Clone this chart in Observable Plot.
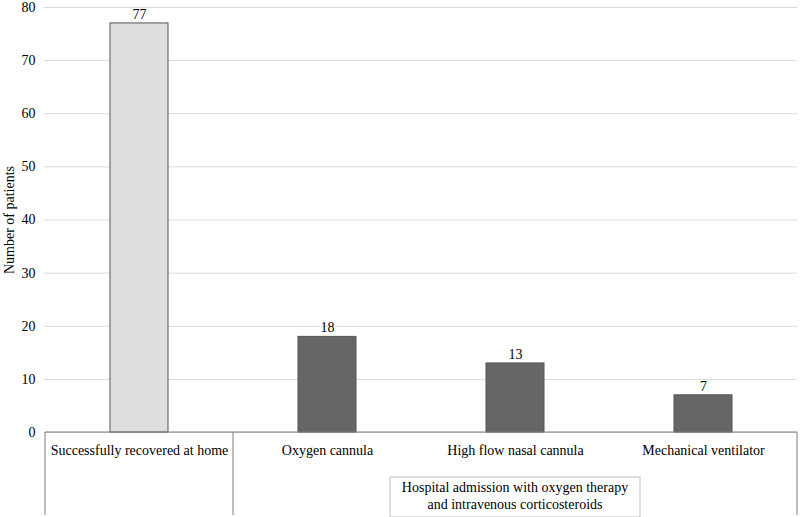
<!DOCTYPE html>
<html><head><meta charset="utf-8">
<script src="https://cdn.jsdelivr.net/npm/d3@7"></script>
<script src="https://cdn.jsdelivr.net/npm/@observablehq/plot@0.6"></script>
<style>
body{margin:0;background:#fff;}
svg{font-family:"Liberation Serif","Times New Roman",serif;}
</style></head>
<body><div id="chart"></div>
<script>
const categories = ["Successfully recovered at home","Oxygen cannula","High flow nasal cannula","Mechanical ventilator"];
const values = [77, 18, 13, 7];
const groups = ["home","hospital","hospital","hospital"];
const groupLabel = ["Hospital admission with oxygen therapy","and intravenous corticosteroids"];
const yTicks = [0,10,20,30,40,50,60,70,80];

const data = categories.map((c,i)=>({cat:c, value:values[i], group:groups[i]}));

const plot = Plot.plot({
  width: 800, height: 517,
  marginLeft: 44, marginRight: 3, marginTop: 7, marginBottom: 85,
  style: {fontFamily: '"Liberation Serif","Times New Roman",serif', fontSize: "14px", color:"#000"},
  x: {domain: categories, padding: 0, axis: null},
  y: {domain: [0,80], ticks: yTicks, tickSize: 0, tickPadding: 9, label: "Number of patients", labelAnchor: "center", labelArrow: "none", labelOffset: 40},
  marks: [
    Plot.gridY(yTicks, {stroke:"#d9d9d9", strokeOpacity:1}),
    Plot.barY(data, {x:"cat", y:"value", fill: d=>d.group==="home"?"#dedede":"#666666", stroke:"#555", strokeWidth:1, insetLeft:65, insetRight:65}),
    Plot.text(data, {x:"cat", y:"value", text: d=>String(d.value), dy:-9, fontSize:14, fill:"#000"}),
    Plot.text(data, {x:"cat", y:0, text:"cat", dy:18, fontSize:14, fill:"#000"})
  ]
});
document.getElementById("chart").appendChild(plot);

// category axis with grouping lines, from the scales
const svg = d3.select(plot);
const xs = plot.scale("x"), ys = plot.scale("y");
const x0 = xs.apply(categories[0]);
const xEnd = xs.apply(categories[categories.length-1]) + xs.bandwidth;
const yBase = ys.apply(0);
const yBottom = 515;
const g = svg.append("g").attr("stroke","#7f7f7f").attr("fill","none");
g.append("line").attr("x1",x0).attr("x2",xEnd).attr("y1",yBase).attr("y2",yBase);
g.append("line").attr("x1",x0).attr("x2",x0).attr("y1",yBase).attr("y2",yBottom);
g.append("line").attr("x1",xs.apply(categories[1])).attr("x2",xs.apply(categories[1])).attr("y1",yBase).attr("y2",yBottom);
g.append("line").attr("x1",xEnd).attr("x2",xEnd).attr("y1",yBase).attr("y2",yBottom);

// group label box
const gx1 = xs.apply(categories[1]), gx2 = xEnd;
const cx = (gx1+gx2)/2;
const bw = 250, bh = 40, by = 477;
svg.append("rect").attr("x",cx-bw/2).attr("y",by).attr("width",bw).attr("height",bh)
  .attr("fill","#fff").attr("stroke","#bfbfbf");
const t = svg.append("text").attr("text-anchor","middle").attr("font-size",14).attr("fill","#000");
groupLabel.forEach((s,i)=>t.append("tspan").attr("x",cx).attr("y",by+15+i*17).text(s));
</script></body></html>
